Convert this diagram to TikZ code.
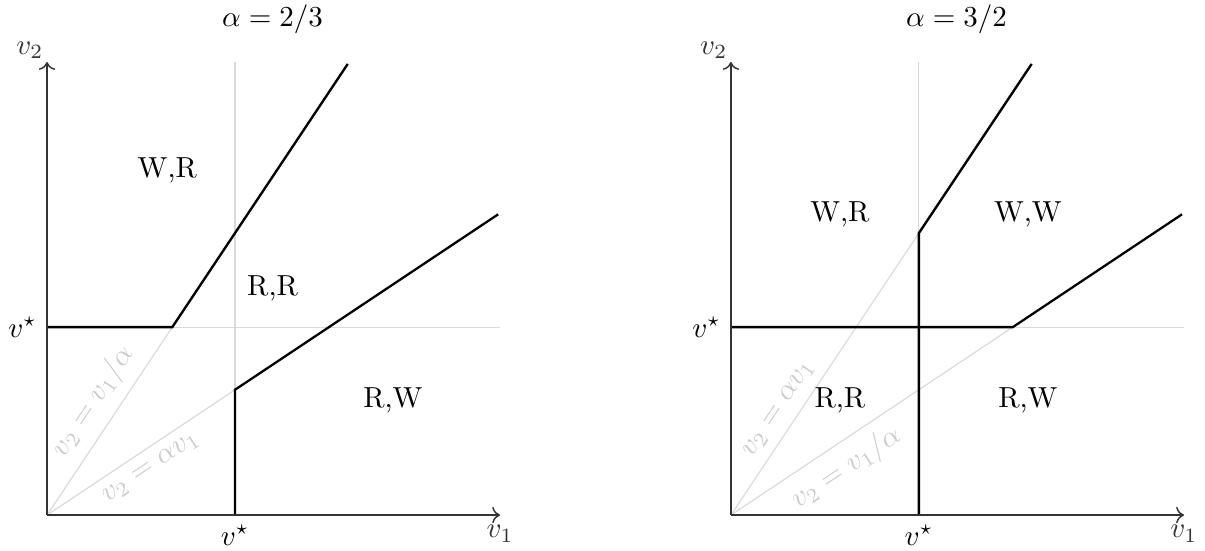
\documentclass[tikz,border=0pt]{standalone}
\usetikzlibrary{arrows.meta}
\begin{document}
\begin{tikzpicture}[x=2.28cm,y=2.28cm,
  guide/.style={black!15, line width=0.4pt},
  guidelabel/.style={black!20, sloped, font=\normalsize},
  bound/.style={black, line width=0.8pt},
  axis/.style={->, black!80, line width=0.5pt},
  region/.style={font=\normalsize}]
\useasboundingbox (-0.25,-0.186) rectangle (6.16,2.74);
% ---------- left panel ----------
\begin{scope}
  \coordinate (O) at (0,0);
  \draw[guide] (1,0) -- (1,2.41);
  \draw[guide] (0,1) -- (2.41,1);
  \draw[guide] (O) -- (2/3,1) node[guidelabel, pos=0.53, above] {$v_2=v_1/\alpha$};
  \draw[guide] (O) -- (1,2/3) node[guidelabel, pos=0.5, below] {$v_2=\alpha v_1$};
  \draw[bound] (0,1) -- (2/3,1) -- (1.6,2.4);
  \draw[bound] (1,0) -- (1,2/3) -- (2.4,1.6);
  \draw[axis] (O) -- (2.41,0) node[below] (lx) {$v_1$};
  \draw[axis] (O) -- (0,2.41) node[anchor=south east, inner sep=1pt] (ly) {$v_2$};
  \node[below] (lvx) at (1,0) {$v^\star$};
  \node[left] (lvy) at (0,1) {$v^\star$};
  \node (ltitle) at (1.2,2.64) {$\alpha=2/3$};
  \node[region] (lwr) at (0.64,1.835) {W,R};
  \node[region] (lrr) at (1.2,1.207) {R,R};
  \node[region] (lrw) at (1.84,0.61) {R,W};
\end{scope}
% ---------- right panel ----------
\begin{scope}[xshift=3.638*2.28cm]
  \coordinate (P) at (0,0);
  \draw[guide] (1,0) -- (1,2.41);
  \draw[guide] (0,1) -- (2.41,1);
  \draw[guide] (P) -- (1,1.5) node[guidelabel, pos=0.34, above] {$v_2=\alpha v_1$};
  \draw[guide] (P) -- (1.5,1) node[guidelabel, pos=0.36, below] {$v_2=v_1/\alpha$};
  \draw[bound] (1,0) -- (1,1.5) -- (1.6,2.4);
  \draw[bound] (0,1) -- (1.5,1) -- (2.4,1.6);
  \draw[axis] (P) -- (2.41,0) node[below] (rx) {$v_1$};
  \draw[axis] (P) -- (0,2.41) node[anchor=south east, inner sep=1pt] (ry) {$v_2$};
  \node[below] (rvx) at (1,0) {$v^\star$};
  \node[left] (rvy) at (0,1) {$v^\star$};
  \node (rtitle) at (1.2,2.64) {$\alpha=3/2$};
  \node[region] (rwr) at (0.58,1.6) {W,R};
  \node[region] (rww) at (1.58,1.6) {W,W};
  \node[region] (rrr) at (0.58,0.61) {R,R};
  \node[region] (rrw) at (1.58,0.61) {R,W};
\end{scope}
\end{tikzpicture}
\end{document}
